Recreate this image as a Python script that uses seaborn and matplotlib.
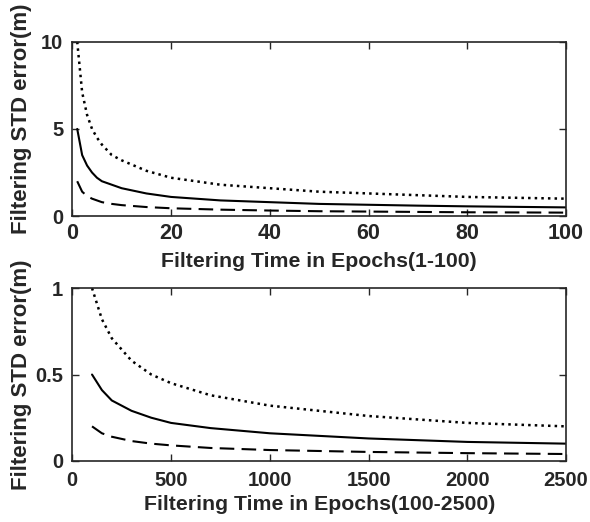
import matplotlib
matplotlib.use("Agg")
import matplotlib.pyplot as plt
import seaborn as sns
import pandas as pd

# epochs 1-100
t_short = [1, 2, 3, 4, 5, 6, 8, 10, 15, 20, 30, 40, 50, 60, 70, 80, 90, 100]
dotted_short = [10, 7.1, 5.8, 5.0, 4.5, 4.1, 3.5, 3.2, 2.6, 2.2, 1.8, 1.6, 1.4, 1.3, 1.2, 1.1, 1.05, 1.0]
solid_short = [5, 3.5, 2.9, 2.5, 2.2, 2.0, 1.8, 1.6, 1.3, 1.1, 0.9, 0.8, 0.7, 0.65, 0.6, 0.56, 0.53, 0.5]
dashed_short = [2, 1.4, 1.15, 1.0, 0.9, 0.8, 0.7, 0.63, 0.52, 0.45, 0.37, 0.32, 0.28, 0.26, 0.24, 0.22, 0.21, 0.2]

# epochs 100-2500 (bottom panel)
t_long = [100, 150, 200, 300, 400, 500, 700, 1000, 1500, 2000, 2500]
dotted_long = [1.0, 0.82, 0.71, 0.58, 0.5, 0.45, 0.38, 0.32, 0.26, 0.22, 0.2]
solid_long = [0.5, 0.41, 0.35, 0.29, 0.25, 0.22, 0.19, 0.16, 0.13, 0.11, 0.1]
dashed_long = [0.2, 0.16, 0.14, 0.115, 0.1, 0.09, 0.075, 0.063, 0.052, 0.045, 0.04]

sns.set_style("ticks")
plt.rcParams['font.family'] = ['Liberation Sans', 'DejaVu Sans']
plt.rcParams['font.weight'] = 'bold'

fig = plt.figure(figsize=(5.9, 5.22), dpi=100)
ax1 = fig.add_axes([0.1225, 0.586, 0.837, 0.334])
ax2 = fig.add_axes([0.1225, 0.117, 0.837, 0.331])


def draw(ax, t, dot, sol, dash, xsize, xpad):
    df = pd.DataFrame({'t': t, 'dot': dot, 'sol': sol, 'dash': dash})
    sns.lineplot(data=df, x='t', y='dot', ax=ax, color='black', lw=1.8, linestyle=':')
    sns.lineplot(data=df, x='t', y='sol', ax=ax, color='black', lw=1.5)
    l = sns.lineplot(data=df, x='t', y='dash', ax=ax, color='black', lw=1.5).lines[-1]
    l.set_dashes((7, 3.5))
    ax.tick_params(direction='in', top=True, right=True, length=5, width=1)
    ax.tick_params(axis='x', pad=xpad, labelsize=xsize)
    ax.tick_params(axis='y', pad=6.5, labelsize=14.5)
    for s in ax.spines.values():
        s.set_linewidth(1.2)
        s.set_visible(True)
    ax.set_ylabel('Filtering STD error(m)', fontsize=16, fontweight='bold')


draw(ax1, t_short, dotted_short, solid_short, dashed_short, 15.5, 5)
ax1.set_xlim(0, 100)
ax1.set_ylim(0, 10)
ax1.set_xticks([0, 20, 40, 60, 80, 100])
ax1.set_yticks([0, 5, 10])
ax1.set_xlabel('Filtering Time in Epochs(1-100)', fontsize=15.3, fontweight='bold', labelpad=6)
ax1.yaxis.set_label_coords(-0.081, 0.56)

draw(ax2, t_long, dotted_long, solid_long, dashed_long, 14.5, 7)
ax2.set_xlim(0, 2500)
ax2.set_ylim(0, 1)
ax2.set_xticks([0, 500, 1000, 1500, 2000, 2500])
ax2.set_yticks([0, 0.5, 1])
ax2.set_yticklabels(['0', '0.5', '1'])
ax2.set_xlabel('Filtering Time in Epochs(100-2500)', fontsize=15.3, fontweight='bold', labelpad=4)
ax2.yaxis.set_label_coords(-0.081, 0.5)

fig.savefig('out.png', dpi=100)
